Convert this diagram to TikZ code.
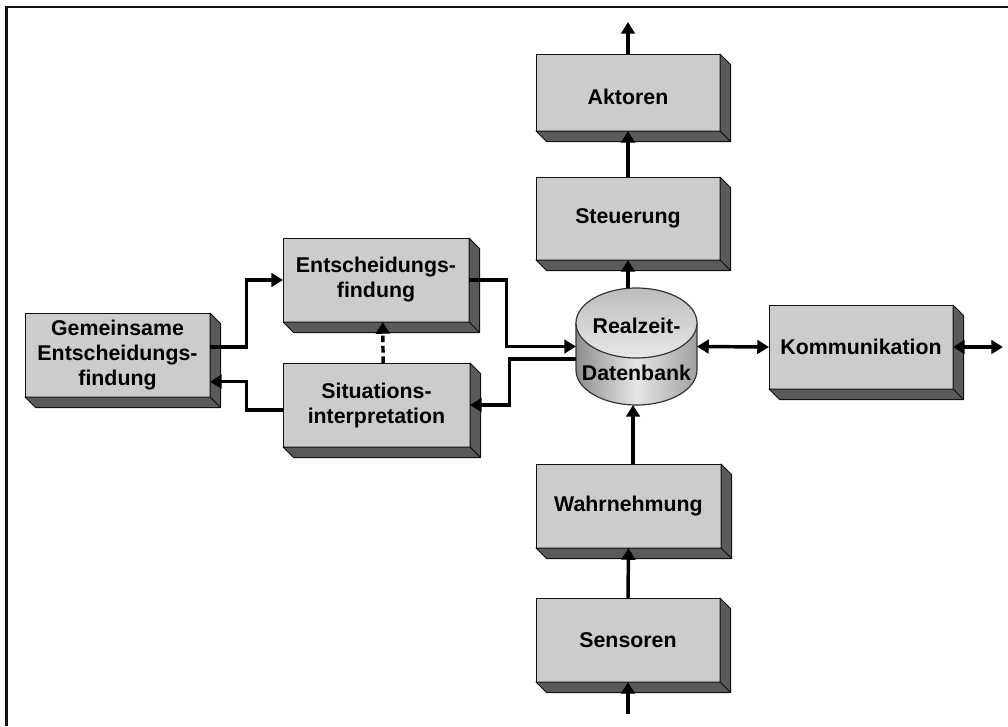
\documentclass[tikz,border=0pt]{standalone}
\usepackage{fontspec}
\setmainfont{Liberation Sans}
\usetikzlibrary{arrows.meta}
\definecolor{frontgray}{HTML}{CCCCCC}
\definecolor{extgray}{HTML}{5A5A5A}
\definecolor{ink}{HTML}{111111}
\definecolor{cylL}{HTML}{8E8E8E}
\definecolor{cylM}{HTML}{E6E6E6}
\definecolor{cylR}{HTML}{A0A0A0}
\definecolor{cylTopA}{HTML}{BDBDBD}
\definecolor{cylTopB}{HTML}{E8E8E8}
\tikzset{
  box/.style={draw=ink, line width=0.75pt, fill=frontgray, inner sep=0pt, outer sep=0pt,
    align=center, text=black, font=\fontsize{16pt}{18.75pt}\selectfont\bfseries},
  ext/.style={draw=ink, line width=0.75pt, fill=extgray, line join=round},
  lbl/.style={inner sep=0pt, outer sep=0pt, text=black, font=\fontsize{16pt}{18.75pt}\selectfont\bfseries},
  arr/.style={draw=black, line width=2.6pt, -{Triangle[length=8.8pt,width=10.2pt]}},
  darr/.style={draw=black, line width=2.6pt, {Triangle[length=8.8pt,width=10.2pt]}-{Triangle[length=8.8pt,width=10.2pt]}},
  dasharr/.style={draw=black, line width=2.6pt, dash pattern=on 5pt off 2.8pt, -{Triangle[length=8.8pt,width=10.2pt]}},
  cylline/.style={draw=ink!85, line width=0.9pt}
}
\newcommand\mkbox[6]{%
  \pgfmathsetmacro\bw{(#4-#2)*0.75}%
  \pgfmathsetmacro\bh{(#5-#3)*0.75}%
  \node[box, minimum width=\bw pt, minimum height=\bh pt] (#1) at ({(#2+#4)/2},{(#3+#5)/2}) {#6};
  \draw[ext] (#1.north east) -- ++(10.5,10.5) -- ([shift={(10.5,10.5)}]#1.south east) -- (#1.south east) -- cycle;
  \draw[ext] (#1.south west) -- ++(10.5,10.5) -- ([shift={(10.5,10.5)}]#1.south east) -- (#1.south east) -- cycle;
}
\begin{document}
\begin{tikzpicture}[x=0.75pt, y=-0.75pt]
\useasboundingbox (0,0) rectangle (1008,726);
% frame
\draw[line width=1.9pt, draw=ink] (6.3,726) -- (6.3,6.8) -- (1008,6.8);

% boxes
\mkbox{akt}{536}{54}{720}{131}{\raisebox{0pt}[\dimexpr\height+6pt\relax][0pt]{Aktoren}}
\mkbox{steu}{536}{177}{720}{260}{Steuerung}
\mkbox{ent}{283}{238}{469}{322}{Entscheidungs-\\findung}
\mkbox{gem}{25}{313}{210}{397}{Gemeinsame\\Entscheidungs-\\findung}
\mkbox{sit}{283}{363}{470}{447}{Situations-\\interpretation}
\mkbox{komm}{769}{305}{953}{389}{Kommunikation}
\mkbox{wahr}{536}{464}{721}{548}{Wahrnehmung}
\mkbox{sens}{536}{598}{720}{682}{Sensoren}

% database cylinder
\node[inner sep=0pt, outer sep=0pt, minimum width=90.75pt, minimum height=87.75pt] (db) at (636.5,346.5) {};
\shade[left color=cylL, right color=cylR, middle color=cylM]
  (576,323) -- (576,370) arc[start angle=180, end angle=0, x radius=60.5, y radius=35] -- (697,323) -- cycle;
\draw[cylline] (576,323) -- (576,370) arc[start angle=180, end angle=0, x radius=60.5, y radius=35] -- (697,323);
\draw[cylline, top color=cylTopA, bottom color=cylTopB] (636.5,323) ellipse[x radius=60.5, y radius=35];
\node[lbl] (dbt1) at (636.5,326) {Realzeit-};
\node[lbl] (dbt2) at (636.5,373) {Datenbank};

% free ends
\coordinate (aktout) at (628,22);
\coordinate (sensin) at (628,714);
\coordinate (kommout) at (1003,347);

% connectors
\draw[arr] (akt.north) -- (aktout);
\draw[arr] (steu.north) -- (akt.south);
\draw[arr] (steu.south |- db.north) -- (steu.south);
\draw[arr] ([xshift=3.4pt]wahr.north) -- ([xshift=3.4pt]wahr.north |- db.south);
\draw[arr] (sens.north) -- (wahr.south);
\draw[arr] (sensin) -- (sens.south);
\draw[arr] (ent.east) -- ++(37.5,0) |- (db.west);
\draw[arr] ([yshift=-9.4pt]db.west) -- ++(-66.5,0) |- ([yshift=0pt]sit.east);
\draw[arr] ([yshift=6pt]gem.east) -- ++(36.7,0) |- (ent.west);
\draw[arr] ([yshift=-3.75pt]sit.west) -- ++(-36.3,0) |- ([yshift=-20pt]gem.east);
\draw[dasharr] ([xshift=5pt]sit.north) -- ([xshift=5pt]ent.south);
\draw[darr] (db.east) -- (komm.west);
\draw[darr] (komm.east) -- (kommout);
\end{tikzpicture}
\end{document}
